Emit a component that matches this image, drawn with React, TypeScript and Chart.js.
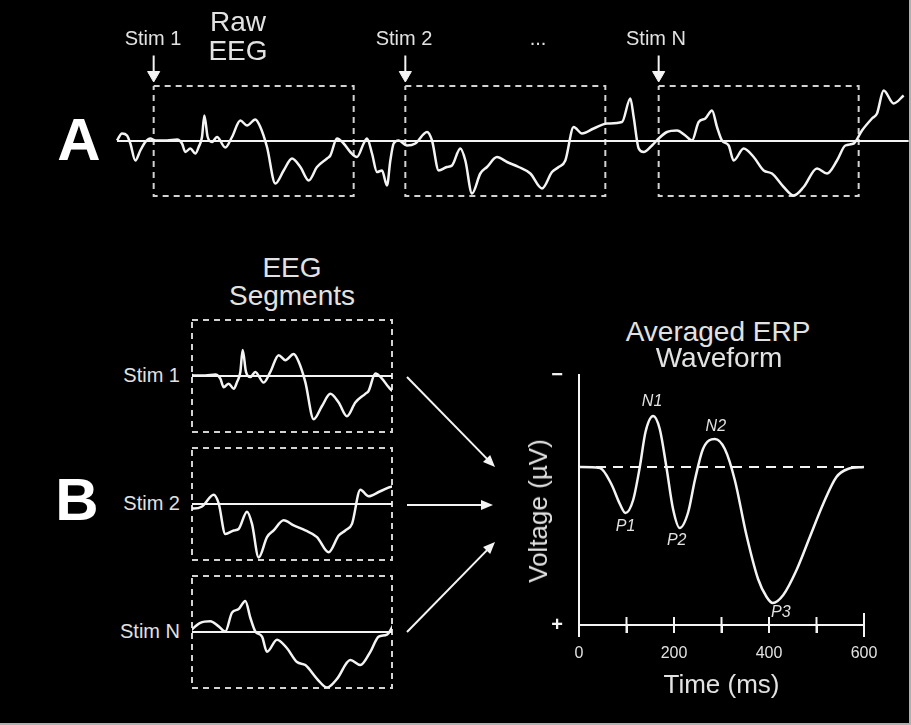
import React, { useEffect, useRef } from 'react';
import { Chart, registerables } from 'chart.js';

Chart.register(...registerables);

// ---------- data ----------
// Raw EEG recording: time (ms) and amplitude (µV, negative drawn upward)
const eegTime = [0, 15, 30, 40, 55, 70, 85, 100, 115, 150, 180, 195, 205, 220, 235, 245, 255, 262, 272, 285, 300, 325, 345, 370, 390, 415, 430, 450, 475, 500, 525, 550, 575, 600, 630, 640, 660, 680, 700, 720, 740, 750, 765, 780, 795, 810, 820, 830, 845, 870, 895, 930, 945, 965, 990, 1005, 1030, 1045, 1065, 1090, 1110, 1140, 1170, 1205, 1240, 1275, 1305, 1325, 1345, 1370, 1395, 1430, 1470, 1515, 1540, 1550, 1565, 1580, 1605, 1625, 1650, 1680, 1705, 1725, 1745, 1765, 1785, 1800, 1815, 1835, 1850, 1880, 1910, 1940, 1965, 2000, 2030, 2060, 2100, 2130, 2160, 2185, 2210, 2235, 2265, 2280, 2300, 2330, 2360];
const eegVolt = [-0.1, -1.5, -1.1, 0.5, 3.9, 1.9, 0.2, -0.5, -0.1, -0.1, -0.3, 0.5, 2.2, 1.5, 2.5, 1.2, -0.8, -5.1, -0.8, 0.2, -0.8, 1.3, -0.8, -4.1, -3.1, -4.3, -2.8, 1.2, 8.5, 5.9, 3.5, 5.2, 7.9, 5.2, 3.5, 2.9, -0.5, 0.5, 2.2, 3.2, 0.5, -0.5, 2.5, 6.2, 5.9, 8.9, 3.9, 0.5, -0.1, 0.9, 0.5, -1.8, -0.1, 5.9, 5.2, 4.9, 1.5, 3.9, 10.5, 6.5, 5.2, 3.2, 4.2, 5.2, 6.5, 9.5, 6.2, 5.2, 3.9, -2.8, -1.5, -2.5, -3.5, -3.8, -8.5, -4.8, 1.5, 2.2, 0.9, -0.5, -1.8, -2.1, -1.1, -0.1, -3.8, -4.5, -6.1, -2.8, -0.1, 0.9, 3.9, 1.5, 3.2, 5.9, 6.5, 9.2, 10.9, 9.2, 5.5, 6.5, 3.9, 0.9, 0.5, -2.1, -4.5, -5.5, -10.1, -7.5, -9.1];
const recordEnd = 2375;

// Stimuli and epochs
const stimLabels = ['Stim 1', 'Stim 2', 'Stim N'];
const stimOnsets = [110, 865, 1625];
const epochLength = 600;
const epochHalfRange = 11; // µV
const markerTop = -17.1;
const markerTip = -13.2;

// Averaged ERP waveform: time (ms), voltage (µV, positive drawn downward)
const erpTime = [0, 44, 68, 86, 98, 114, 128, 140, 156, 170, 184, 198, 212, 230, 244, 261, 286, 307, 328, 352, 377, 395, 408, 430, 458, 486, 514, 542, 566, 600];
const erpVolt = [0, 0.1, 1.7, 3.7, 4.6, 3.3, 0, -3.5, -5.1, -3.8, 0, 4.2, 6.1, 4.5, 1.3, -1.8, -2.8, -1.8, 1.3, 6.7, 11.2, 13, 13.6, 12.8, 10.3, 7, 3.7, 1, 0.2, 0];
const erpPeakNames = ['P1', 'N1', 'P2', 'N2', 'P3'];
const erpPeakTimes = [98, 156, 212, 286, 408];
const timeTickLabels = [0, 200, 400, 600];
const voltRange = [-9.2, 15.8];

// ---------- style ----------
const FONT = '"Liberation Sans", Arial, Helvetica, sans-serif';
const INK = '#f4f4f4';
const TEXT = '#e2e2e2';
const BOX = '#d2d2d2';

const pts = (xs: number[], ys: number[]) => xs.map((x, i) => ({ x, y: ys[i] }));
const boxData = (start: number, end: number, half: number) => [
  { x: start, y: -half }, { x: end, y: -half }, { x: end, y: half }, { x: start, y: half }, { x: start, y: -half },
];

const baseOptions: any = {
  responsive: false,
  animation: false,
  devicePixelRatio: 1,
  events: [],
  plugins: { legend: { display: false }, tooltip: { enabled: false }, title: { display: false } },
};

const peakOffsets: Record<string, [number, number]> = {
  P1: [0, 14], N1: [-1, -14], P2: [-3, 13], N2: [1, -12], P3: [8, 10],
};
// flow arrows (canvas px relative to plot area top-left): x0, y0, tipX, tipY
const flowArrows = [
  [-172, 2, -84, 92],
  [-172, 130, -86, 130],
  [-172, 257, -84, 167],
];

const erpDecor = {
  id: 'erpDecor',
  afterDraw(chart: any) {
    const { ctx, chartArea, scales } = chart;
    const xs = scales.x;
    const ys = scales.y;
    ctx.save();
    ctx.strokeStyle = INK;
    ctx.fillStyle = INK;
    ctx.lineWidth = 2;
    // tick marks crossing the time axis
    xs.ticks.forEach((tk: any, i: number) => {
      const px = xs.getPixelForValue(tk.value);
      const first = i === 0;
      const last = i === xs.ticks.length - 1;
      ctx.beginPath();
      ctx.moveTo(px, chartArea.bottom - (last ? 12 : first ? 0 : 8));
      ctx.lineTo(px, chartArea.bottom + (first || last ? 12 : 8));
      ctx.stroke();
    });
    // arrows from segments into the average
    flowArrows.forEach(([x0, y0, x1, y1]) => {
      const ax = chartArea.left + x0, ay = chartArea.top + y0;
      const bx = chartArea.left + x1, by = chartArea.top + y1;
      const len = Math.hypot(bx - ax, by - ay);
      const ux = (bx - ax) / len, uy = (by - ay) / len;
      const hl = 12, hw = 5;
      ctx.beginPath();
      ctx.moveTo(ax, ay);
      ctx.lineTo(bx - ux * hl * 0.8, by - uy * hl * 0.8);
      ctx.stroke();
      ctx.beginPath();
      ctx.moveTo(bx, by);
      ctx.lineTo(bx - ux * hl - uy * hw, by - uy * hl + ux * hw);
      ctx.lineTo(bx - ux * hl + uy * hw, by - uy * hl - ux * hw);
      ctx.closePath();
      ctx.fill();
    });
    // component labels
    ctx.fillStyle = TEXT;
    ctx.font = `italic 16px ${FONT}`;
    ctx.textAlign = 'center';
    ctx.textBaseline = 'middle';
    erpPeakNames.forEach((name, i) => {
      const t = erpPeakTimes[i];
      const v = erpVolt[erpTime.indexOf(t)];
      const [dx, dy] = peakOffsets[name];
      ctx.fillText(name, xs.getPixelForValue(t) + dx, ys.getPixelForValue(v) + dy);
    });
    ctx.restore();
  },
};

function Txt(props: { x: number; y: number; size: number; text: string; bold?: boolean; align?: 'center' | 'right'; rotate?: boolean; color?: string }) {
  const { x, y, size, text, bold, align = 'center', rotate, color = TEXT } = props;
  const tx = align === 'right' ? '-100%' : '-50%';
  return (
    <div
      style={{
        position: 'absolute',
        left: x,
        top: y,
        transform: `translate(${tx}, -50%)${rotate ? ' rotate(-90deg)' : ''}`,
        fontFamily: FONT,
        fontSize: size,
        fontWeight: bold ? 'bold' : 'normal',
        lineHeight: 1,
        color,
        whiteSpace: 'nowrap',
      }}
    >
      {text}
    </div>
  );
}

export default function App() {
  const aRef = useRef<HTMLCanvasElement>(null);
  const seg1 = useRef<HTMLCanvasElement>(null);
  const seg2 = useRef<HTMLCanvasElement>(null);
  const seg3 = useRef<HTMLCanvasElement>(null);
  const erpRef = useRef<HTMLCanvasElement>(null);

  useEffect(() => {
    const charts: Chart[] = [];

    // Panel A: raw EEG
    charts.push(
      new Chart(aRef.current as HTMLCanvasElement, {
        type: 'line',
        data: {
          datasets: [
            { data: pts(eegTime, eegVolt), borderColor: INK, borderWidth: 2.5, pointRadius: 0, cubicInterpolationMode: 'monotone' } as any,
            { data: [{ x: eegTime[0], y: 0 }, { x: recordEnd, y: 0 }], borderColor: INK, borderWidth: 2, pointRadius: 0 },
            ...stimOnsets.map((s) => ({
              data: [{ x: s, y: markerTop }, { x: s, y: markerTip }],
              borderColor: INK, borderWidth: 2,
              pointRadius: [0, 7], pointStyle: 'triangle', pointRotation: 180,
              pointBackgroundColor: INK, pointBorderColor: INK, pointBorderWidth: 1,
            })),
            ...stimOnsets.map((s) => ({
              data: boxData(s, s + epochLength, epochHalfRange),
              borderColor: BOX, borderWidth: 2, borderDash: [6, 5], pointRadius: 0, tension: 0,
            })),
          ],
        },
        options: {
          ...baseOptions,
          layout: { padding: 0, autoPadding: false },
          scales: {
            x: { type: 'linear', display: false, min: -351, max: 2382 },
            y: { type: 'linear', display: false, reverse: true, min: -28.2, max: 17.8 },
          },
        },
      } as any)
    );

    // Panel B: segments
    [seg1, seg2, seg3].forEach((ref, i) => {
      const s = stimOnsets[i];
      charts.push(
        new Chart(ref.current as HTMLCanvasElement, {
          type: 'line',
          data: {
            datasets: [
              { data: pts(eegTime, eegVolt), borderColor: INK, borderWidth: 2.5, pointRadius: 0, cubicInterpolationMode: 'monotone' },
              { data: [{ x: s, y: 0 }, { x: s + epochLength, y: 0 }], borderColor: INK, borderWidth: 2, pointRadius: 0 },
              { data: boxData(s, s + epochLength, epochHalfRange), borderColor: BOX, borderWidth: 2, borderDash: [6, 5], pointRadius: 0, tension: 0, clip: false },
            ],
          },
          options: {
            ...baseOptions,
            layout: { padding: 6, autoPadding: false },
            scales: {
              x: { type: 'linear', display: false, min: s, max: s + epochLength },
              y: { type: 'linear', display: false, reverse: true, min: -epochHalfRange, max: epochHalfRange },
            },
          },
        } as any)
      );
    });

    // Averaged ERP
    charts.push(
      new Chart(erpRef.current as HTMLCanvasElement, {
        type: 'line',
        data: {
          datasets: [
            { data: pts(erpTime, erpVolt), borderColor: INK, borderWidth: 2.5, pointRadius: 0, cubicInterpolationMode: 'monotone' },
            { data: [{ x: 0, y: 0 }, { x: 600, y: 0 }], borderColor: INK, borderWidth: 2, borderDash: [10, 7], pointRadius: 0 },
          ],
        },
        options: {
          ...baseOptions,
          layout: { padding: { left: 120, top: 15, right: 26, bottom: 0 }, autoPadding: false },
          scales: {
            x: {
              type: 'linear', min: 0, max: 600,
              afterFit: (sc: any) => { sc.height = 80; },
              border: { display: true, color: INK, width: 2 },
              grid: { display: true, drawOnChartArea: false, drawTicks: true, tickLength: 8, color: INK, lineWidth: 2 },
              ticks: {
                stepSize: 100, autoSkip: false, maxRotation: 0, padding: 11, color: TEXT,
                font: { family: FONT, size: 16 },
                callback: (v: any) => (timeTickLabels.includes(Number(v)) ? String(v) : ''),
              },
              title: { display: true, text: 'Time (ms)', color: TEXT, font: { family: FONT, size: 26 }, padding: { top: 0, bottom: 4 } },
            },
            y: {
              type: 'linear', reverse: true, min: voltRange[0], max: voltRange[1],
              afterFit: (sc: any) => { sc.width = 59; sc.paddingTop = 0; sc.paddingBottom = 0; },
              afterBuildTicks: (sc: any) => { sc.ticks = [{ value: voltRange[0] }, { value: voltRange[1] }]; },
              border: { display: true, color: INK, width: 2 },
              grid: { display: false, drawTicks: false },
              ticks: {
                autoSkip: false, padding: 16, color: INK,
                font: { family: FONT, size: 20, weight: 'bold' },
                callback: (v: any) => (Number(v) === voltRange[0] ? '\u2212' : '+'),
              },
            },
          },
        },
        plugins: [erpDecor],
      } as any)
    );

    return () => charts.forEach((c) => c.destroy());
  }, []);

  const abs = (l: number, t: number, w: number, h: number): React.CSSProperties => ({ position: 'absolute', left: l, top: t, width: w, height: h });

  return (
    <div style={{ position: 'fixed', left: 0, top: 0, width: 911, height: 725, background: '#000', overflow: 'hidden' }}>
      <canvas ref={aRef} width={911} height={230} style={abs(0, 0, 911, 230)} />
      <canvas ref={seg1} width={212} height={124} style={abs(186, 314, 212, 124)} />
      <canvas ref={seg2} width={212} height={124} style={abs(186, 442, 212, 124)} />
      <canvas ref={seg3} width={212} height={124} style={abs(186, 570, 212, 124)} />
      <canvas ref={erpRef} width={490} height={345} style={abs(400, 360, 490, 345)} />

      <Txt x={79} y={140} size={60} bold text="A" color="#ffffff" />
      <Txt x={77} y={500} size={60} bold text="B" color="#ffffff" />

      <Txt x={153} y={37.5} size={20} text={stimLabels[0]} />
      <Txt x={404} y={37.5} size={20} text={stimLabels[1]} />
      <Txt x={656} y={37.5} size={20} text={stimLabels[2]} />
      <Txt x={538} y={37.5} size={20} text="..." />
      <Txt x={238} y={22} size={28} text="Raw" />
      <Txt x={238} y={51} size={28} text="EEG" />

      <Txt x={292} y={268} size={28} text="EEG" />
      <Txt x={292} y={296} size={28} text="Segments" />
      <Txt x={180} y={375} size={20} align="right" text={stimLabels[0]} />
      <Txt x={180} y={503} size={20} align="right" text={stimLabels[1]} />
      <Txt x={180} y={630.5} size={20} align="right" text={stimLabels[2]} />

      <Txt x={718} y={332} size={28} text="Averaged ERP" />
      <Txt x={719} y={358} size={28} text="Waveform" />
      <Txt x={537.5} y={511} size={26} rotate text="Voltage (µV)" />

      <div style={{ position: 'absolute', left: 909, top: 0, width: 2, height: 725, background: '#b0b0b0' }} />
      <div style={{ position: 'absolute', left: 0, top: 723, width: 911, height: 2, background: '#b0b0b0' }} />
    </div>
  );
}
